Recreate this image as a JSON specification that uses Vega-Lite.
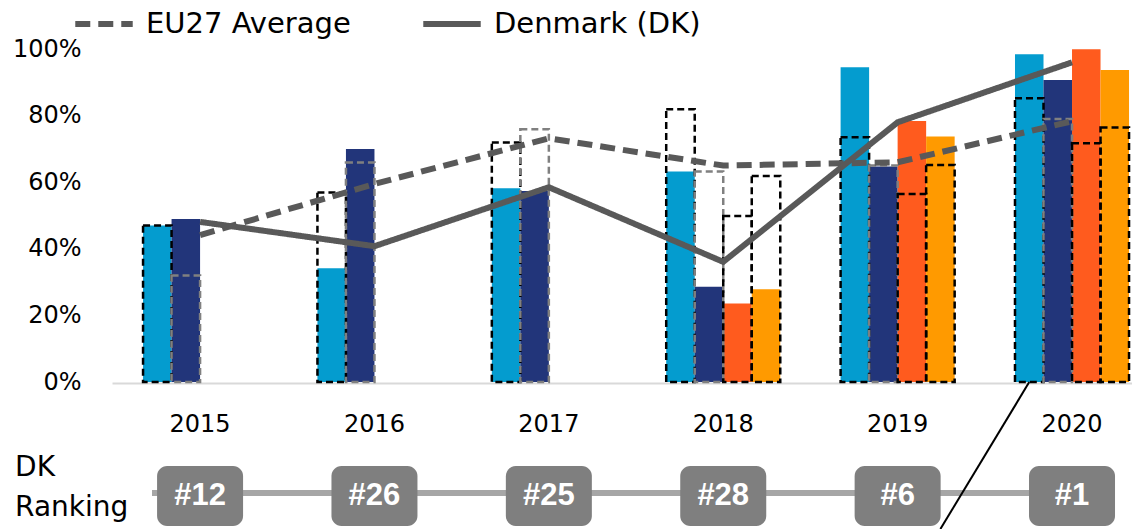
{
  "$schema": "https://vega.github.io/schema/vega-lite/v6.json",
  "width": 1020,
  "height": 480,
  "autosize": {"type": "none"},
  "padding": {"left": 112, "top": 49, "right": 0, "bottom": 0},
  "background": "white",
  "config": {"view": {"stroke": null}, "font": "DejaVu Sans", "axis": {"grid": false}},
  "datasets": {
    "bars": [
      {"year": "2015", "cat": "A", "dk": 47, "eu": 47},
      {"year": "2015", "cat": "B", "dk": 49, "eu": 32},
      {"year": "2016", "cat": "A", "dk": 34.2, "eu": 56.9},
      {"year": "2016", "cat": "B", "dk": 70, "eu": 65.9},
      {"year": "2017", "cat": "A", "dk": 58.2, "eu": 71.9},
      {"year": "2017", "cat": "B", "dk": 57.4, "eu": 75.9},
      {"year": "2018", "cat": "A", "dk": 63.2, "eu": 81.9},
      {"year": "2018", "cat": "B", "dk": 28.6, "eu": 63.2},
      {"year": "2018", "cat": "C", "dk": 23.6, "eu": 49.9},
      {"year": "2018", "cat": "D", "dk": 27.9, "eu": 61.9},
      {"year": "2019", "cat": "A", "dk": 94.5, "eu": 73.5},
      {"year": "2019", "cat": "B", "dk": 64.7, "eu": 65},
      {"year": "2019", "cat": "C", "dk": 78.4, "eu": 56.5},
      {"year": "2019", "cat": "D", "dk": 73.7, "eu": 65.2},
      {"year": "2020", "cat": "A", "dk": 98.4, "eu": 85.2},
      {"year": "2020", "cat": "B", "dk": 90.7, "eu": 79},
      {"year": "2020", "cat": "C", "dk": 99.9, "eu": 71.7},
      {"year": "2020", "cat": "D", "dk": 93.7, "eu": 76.4}
    ],
    "lines": [
      {"year": "2015", "series": "EU27 Average", "value": 44.1},
      {"year": "2016", "series": "EU27 Average", "value": 59.5},
      {"year": "2017", "series": "EU27 Average", "value": 73.2},
      {"year": "2018", "series": "EU27 Average", "value": 65},
      {"year": "2019", "series": "EU27 Average", "value": 66},
      {"year": "2020", "series": "EU27 Average", "value": 78.3},
      {"year": "2015", "series": "Denmark (DK)", "value": 48.1},
      {"year": "2016", "series": "Denmark (DK)", "value": 40.8},
      {"year": "2017", "series": "Denmark (DK)", "value": 58.5},
      {"year": "2018", "series": "Denmark (DK)", "value": 36.1},
      {"year": "2019", "series": "Denmark (DK)", "value": 78},
      {"year": "2020", "series": "Denmark (DK)", "value": 96}
    ],
    "rank": [
      {"year": "2015", "rank": "#12"},
      {"year": "2016", "rank": "#26"},
      {"year": "2017", "rank": "#25"},
      {"year": "2018", "rank": "#28"},
      {"year": "2019", "rank": "#6"},
      {"year": "2020", "rank": "#1"}
    ],
    "callout": [
      {"year": "2020", "cat": "A", "v": 0},
      {"year": "2019", "cat": "D", "v": -44.1}
    ]
  },
  "layer": [
    {
      "data": {"name": "bars"},
      "mark": {"type": "bar"},
      "encoding": {
        "x": {
          "field": "year", "type": "nominal",
          "scale": {"domain": ["2015", "2016", "2017", "2018", "2019", "2020"], "paddingInner": 0.346, "paddingOuter": 0.0975, "align": 0.913},
          "axis": {"orient": "bottom", "offset": -146, "title": null, "labelAngle": 0, "labelFontSize": 24, "labelColor": "black", "labelPadding": 29, "ticks": false, "domainColor": "#D9D9D9", "domainWidth": 2}
        },
        "xOffset": {"field": "cat", "type": "nominal", "scale": {"domain": ["A", "B", "C", "D"], "paddingInner": 0, "paddingOuter": 0}},
        "y": {
          "field": "dk", "type": "quantitative",
          "scale": {"domain": [-44.1, 100], "nice": false, "zero": false},
          "axis": {"values": [0, 20, 40, 60, 80, 100], "labelExpr": "datum.value + '%'", "title": null, "domain": false, "ticks": false, "labelFontSize": 24, "labelColor": "black", "labelPadding": 31}
        },
        "color": {"field": "cat", "type": "nominal", "scale": {"domain": ["A", "B", "C", "D"], "range": ["#049CCF", "#22357A", "#FF5B1E", "#FF9A00"]}, "legend": null}
      }
    },
    {
      "data": {"name": "bars"},
      "mark": {"type": "bar", "filled": false, "strokeWidth": 2.5, "strokeDash": [7, 4]},
      "encoding": {
        "x": {"field": "year", "type": "nominal"},
        "xOffset": {"field": "cat", "type": "nominal"},
        "y": {"field": "eu", "type": "quantitative"},
        "stroke": {"field": "cat", "type": "nominal", "scale": {"domain": ["A", "B", "C", "D"], "range": ["#000000", "#808080", "#000000", "#000000"]}, "legend": null}
      }
    },
    {
      "data": {"name": "lines"},
      "mark": {"type": "line", "strokeWidth": 6, "color": "#595959"},
      "encoding": {
        "x": {"field": "year", "type": "nominal"},
        "y": {"field": "value", "type": "quantitative"},
        "strokeDash": {
          "field": "series", "type": "nominal",
          "scale": {"domain": ["EU27 Average", "Denmark (DK)"], "range": [[15, 8], [1, 0]]},
          "legend": {"orient": "none", "legendX": -40, "legendY": -57, "direction": "horizontal", "title": null, "labelFontSize": 29, "labelColor": "black", "labelLimit": 0, "symbolType": "stroke", "symbolSize": 3300, "symbolStrokeWidth": 6, "symbolStrokeColor": "#595959", "labelOffset": 10, "columnPadding": 60}
        }
      }
    },
    {
      "data": {"name": "rank"},
      "mark": {"type": "rule", "color": "#A6A6A6", "strokeWidth": 6},
      "encoding": {
        "x": {"datum": "2015", "bandPosition": 0.08},
        "x2": {"datum": "2020"},
        "y": {"datum": -33.3}
      }
    },
    {
      "data": {"name": "rank"},
      "mark": {"type": "bar", "width": 86, "color": "#7F7F7F", "cornerRadius": 10},
      "encoding": {
        "x": {"field": "year", "type": "nominal"},
        "y": {"datum": -25.2},
        "y2": {"datum": -43.2}
      }
    },
    {
      "data": {"name": "rank"},
      "mark": {"type": "text", "font": "Liberation Sans", "fontWeight": "bold", "fontSize": 31, "color": "white", "baseline": "middle", "align": "center"},
      "encoding": {
        "x": {"field": "year", "type": "nominal"},
        "y": {"datum": -34.3},
        "text": {"field": "rank"}
      }
    },
    {
      "data": {"values": [{"label": "DK\nRanking"}]},
      "mark": {"type": "text", "align": "left", "baseline": "middle", "fontSize": 28, "lineHeight": 40, "lineBreak": "\n", "dx": -185, "color": "black"},
      "encoding": {
        "x": {"datum": "2015"},
        "y": {"datum": -25.8},
        "text": {"field": "label"}
      }
    },
    {
      "data": {"name": "callout"},
      "mark": {"type": "line", "color": "black", "strokeWidth": 2},
      "encoding": {
        "x": {"field": "year", "type": "nominal"},
        "xOffset": {"field": "cat", "type": "nominal"},
        "y": {"field": "v", "type": "quantitative"}
      }
    }
  ]
}
